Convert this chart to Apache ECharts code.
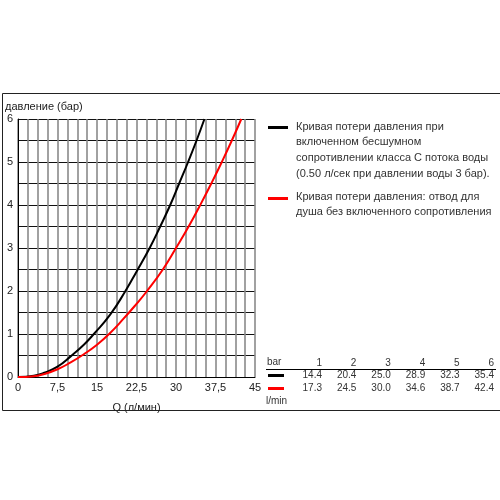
<!DOCTYPE html>
<html>
<head>
<meta charset="utf-8">
<script src="https://cdn.jsdelivr.net/npm/echarts@6/dist/echarts.min.js"></script>
<style>html,body{margin:0;padding:0;background:#fff}#c{width:500px;height:500px}</style>
</head>
<body>
<div id="c"></div>
<script>
// Curve data: [flow Q (l/min), pressure (bar)]
var blackCurve = [[0,0],[3,0.03],[5,0.1],[7.5,0.24],[10,0.48],[12.5,0.75],[14.4,1],[17.5,1.45],[20.4,2],[22.5,2.45],[25,3],[27,3.5],[28.9,4],[30.6,4.5],[32.3,5],[33.9,5.5],[35.4,6]];
var redCurve = [[0,0],[3,0.02],[5,0.07],[7.5,0.18],[10,0.34],[12.5,0.53],[15,0.75],[17.3,1],[20,1.35],[22.5,1.7],[24.5,2],[27.5,2.5],[30,3],[32.4,3.5],[34.6,4],[36.7,4.5],[38.7,5],[40.6,5.5],[42.4,6]];
// Table
var tableBar = ['1','2','3','4','5','6'];
var tableBlack = ['14.4','20.4','25.0','28.9','32.3','35.4'];
var tableRed = ['17.3','24.5','30.0','34.6','38.7','42.4'];
// Texts
var legendBlack = ['Кривая потери давления при','включенном бесшумном','сопротивлении класса С потока воды','(0.50 л/сек при давлении воды 3 бар).'];
var legendRed = ['Кривая потери давления: отвод для','душа без включенного сопротивления'];
var yName = 'давление (бар)';
var xName = 'Q (л/мин)';

var font = 'Liberation Sans, Arial, sans-serif';
var graphics = [];
graphics.push({type:'rect', left:0, top:91, shape:{x:0,y:0,width:499,height:317}, style:{fill:'none', stroke:'#222', lineWidth:1}, z:-1});
graphics.push({type:'text', left:5, top:101, style:{text:yName, font:'11px '+font, fill:'#222'}});
// legend
graphics.push({type:'rect', left:268, top:126, shape:{x:0,y:0,width:20,height:3}, style:{fill:'#000'}});
graphics.push({type:'rect', left:268, top:197, shape:{x:0,y:0,width:20,height:3}, style:{fill:'#ff0000'}});
legendBlack.forEach(function(t,i){
  graphics.push({type:'text', left:296, top:121 + i*15.7, style:{text:t, font:'11px '+font, fill:'#333'}});
});
legendRed.forEach(function(t,i){
  graphics.push({type:'text', left:296, top:191 + i*15.5, style:{text:t, font:'11px '+font, fill:'#333'}});
});
// table
graphics.push({type:'text', left:267, top:357, style:{text:'bar', font:'10px '+font, fill:'#333'}});
graphics.push({type:'line', shape:{x1:266,y1:369.5,x2:496,y2:369.5}, style:{stroke:'#000', lineWidth:1}});
graphics.push({type:'rect', left:268, top:374, shape:{x:0,y:0,width:16,height:3}, style:{fill:'#000'}});
graphics.push({type:'rect', left:268, top:387, shape:{x:0,y:0,width:16,height:3}, style:{fill:'#ff0000'}});
graphics.push({type:'text', left:266, top:396, style:{text:'l/min', font:'10px '+font, fill:'#333'}});
function colText(arr, y){
  arr.forEach(function(t,i){
    graphics.push({type:'text', x:322 + i*34.4, y:y, style:{text:t, font:'10px '+font, fill:'#333', align:'right', verticalAlign:'middle'}});
  });
}
colText(tableBar, 363);
colText(tableBlack, 375.5);
colText(tableRed, 388.5);

var chart = echarts.init(document.getElementById('c'), null, {renderer:'canvas'});
chart.setOption({
  animation:false,
  backgroundColor:'#fff',
  grid:{left:18, right:245, top:119, bottom:123, containLabel:false},
  xAxis:{
    type:'value', min:0, max:45, interval:1.875,
    name:xName, nameLocation:'middle', nameGap:25,
    nameTextStyle:{fontSize:11, color:'#222', fontFamily:font},
    axisLine:{show:true, lineStyle:{color:'#000', width:1}},
    axisTick:{show:false},
    axisLabel:{margin:5, fontSize:11, color:'#222', fontFamily:font,
      formatter:function(v){ var r=Math.round(v*1000)/1000; if (Math.abs(r/7.5 - Math.round(r/7.5))>1e-6) return ''; return String(r).replace('.',','); }},
    splitLine:{show:true, lineStyle:{color:'#8a8a8a', width:1.6}}
  },
  yAxis:{
    type:'value', min:0, max:6, interval:0.5,
    axisLine:{show:true, lineStyle:{color:'#000', width:1}},
    axisTick:{show:false},
    axisLabel:{margin:5, fontSize:11, color:'#222', fontFamily:font,
      formatter:function(v){ return (Math.abs(v-Math.round(v))<1e-6) ? String(Math.round(v)) : ''; }},
    splitLine:{show:true, lineStyle:{color:'#111', width:1}}
  },
  series:[
    {type:'line', data:blackCurve, smooth:true, showSymbol:false, lineStyle:{color:'#000', width:2}, z:5},
    {type:'line', data:redCurve, smooth:true, showSymbol:false, lineStyle:{color:'#ff0000', width:2}, z:5}
  ],
  graphic:graphics
});
</script>
</body>
</html>
